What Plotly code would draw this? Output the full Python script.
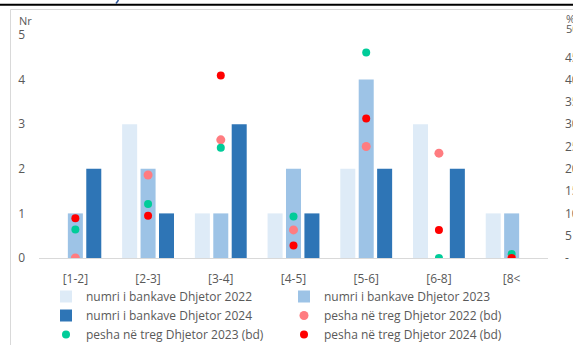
import plotly.graph_objects as go

# Bank size classes (billion ALL)
categories = ["[1-2]", "[2-3]", "[3-4]", "[4-5]", "[5-6]", "[6-8]", "[8<"]

# Number of banks per class (left axis)
banks_2022 = [0, 3, 1, 1, 2, 3, 1]
banks_2023 = [1, 2, 1, 2, 4, 0, 1]
banks_2024 = [2, 1, 3, 1, 2, 2, 0]

# Market share per class, % (right axis)
share_2022 = [0.0, 18.6, 26.5, 6.3, 25.0, 23.5, 0.0]
share_2023 = [6.4, 12.1, 24.7, 9.3, 46.1, 0.0, 0.9]
share_2024 = [8.9, 9.5, 40.9, 2.8, 31.3, 6.3, 0.0]

# Right-axis tick labels
share_ticks = [0, 5, 10, 15, 20, 25, 30, 35, 40, 45]
share_ticktext = ["-", "5", "10", "15", "20", "25", "30", "35", "40", "45"]

W, H = 573, 345
ML, MR, MT, MB = 39, 25, 35, 87
PW, PH = W - ML - MR, H - MT - MB


def px_x(p):
    return (p - ML) / PW


def px_y(p):
    return (H - MB - p) / PH


GRAY = "#595959"
FONT = "Open Sans"

fig = go.Figure()

bar_specs = [
    ("numri i bankave Dhjetor 2022", banks_2022, "#DEEBF7"),
    ("numri i bankave Dhjetor 2023", banks_2023, "#9DC3E6"),
    ("numri i bankave Dhjetor 2024", banks_2024, "#2E75B6"),
]
for name, vals, color in bar_specs:
    fig.add_trace(go.Bar(
        x=categories, y=vals, name=name,
        marker=dict(color=color, line=dict(width=0)),
        yaxis="y",
    ))

dot_specs = [
    ("pesha në treg Dhjetor 2022 (bd)", share_2022, "#FF7C80", 9),
    ("pesha në treg Dhjetor 2023 (bd)", share_2023, "#00CC99", 8),
    ("pesha në treg Dhjetor 2024 (bd)", share_2024, "#FF0000", 8),
]
for name, vals, color, size in dot_specs:
    fig.add_trace(go.Scatter(
        x=categories, y=vals, name=name, mode="markers",
        marker=dict(color=color, size=size, line=dict(width=0)),
        yaxis="y2",
    ))

fig.update_layout(
    width=W, height=H,
    margin=dict(l=ML, r=MR, t=MT, b=MB, pad=0, autoexpand=False),
    paper_bgcolor="white", plot_bgcolor="white",
    font=dict(family=FONT, size=12, color=GRAY),
    barmode="group", bargap=0.24, bargroupgap=0.185,
    showlegend=True,
    legend=dict(
        orientation="h", x=px_x(46), xanchor="left",
        y=px_y(282), yanchor="top",
        entrywidth=193, entrywidthmode="pixels",
        font=dict(family=FONT, size=12, color=GRAY),
        itemwidth=30, tracegroupgap=0,
        bgcolor="rgba(0,0,0,0)", borderwidth=0,
        traceorder="normal",
    ),
    xaxis=dict(
        type="category", showgrid=False, zeroline=False,
        showline=True, linecolor="#D9D9D9", linewidth=1,
        ticks="", ticklabelstandoff=10,
        tickfont=dict(family=FONT, size=12, color=GRAY),
    ),
    yaxis=dict(
        range=[0, 5], dtick=1, showgrid=False, zeroline=False,
        showline=False, ticks="", ticklabelstandoff=13,
        tickfont=dict(family=FONT, size=12, color=GRAY),
    ),
    yaxis2=dict(
        overlaying="y", side="right", range=[0, 50],
        tickvals=share_ticks, ticktext=share_ticktext,
        showgrid=False, zeroline=False, showline=False,
        ticks="", ticklabelstandoff=16,
        tickfont=dict(family=FONT, size=12, color=GRAY),
    ),
)

# Chart frame and page rule above it
fig.add_shape(type="rect", xref="paper", yref="paper",
              x0=px_x(10.5), x1=px_x(620), y0=px_y(9.5), y1=px_y(400),
              line=dict(color="#D9D9D9", width=1), layer="below")
fig.add_shape(type="line", xref="paper", yref="paper",
              x0=px_x(0), x1=px_x(W), y0=px_y(4.7), y1=px_y(4.7),
              line=dict(color="black", width=2))
fig.add_shape(type="line", xref="paper", yref="paper",
              x0=px_x(118.5), x1=px_x(116), y0=px_y(0), y1=px_y(3.5),
              line=dict(color="#2F5597", width=1.5))

# Axis titles and top right-axis label
fig.add_annotation(text="Nr", xref="paper", yref="paper",
                   x=px_x(17), y=px_y(20), xanchor="left", yanchor="middle",
                   showarrow=False, font=dict(family=FONT, size=11, color=GRAY))
fig.add_annotation(text="%", xref="paper", yref="paper",
                   x=px_x(564), y=px_y(18), xanchor="left", yanchor="middle",
                   showarrow=False, font=dict(family=FONT, size=11, color=GRAY))
fig.add_annotation(text="50", xref="paper", yref="paper",
                   x=px_x(564), y=px_y(29), xanchor="left", yanchor="middle",
                   showarrow=False, font=dict(family=FONT, size=11, color=GRAY))

fig.write_html("out.html")
